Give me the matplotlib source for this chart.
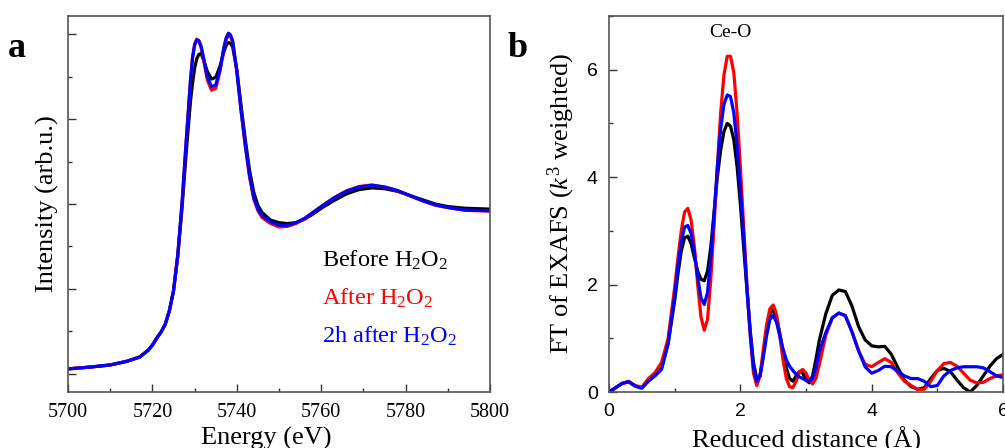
import matplotlib
matplotlib.use("Agg")
import matplotlib.pyplot as plt
from matplotlib.ticker import MultipleLocator

plt.rcParams['font.family'] = ['Liberation Serif', 'DejaVu Serif']
plt.rcParams['mathtext.fontset'] = 'custom'
plt.rcParams['mathtext.rm'] = 'Liberation Serif'
plt.rcParams['mathtext.it'] = 'Liberation Serif:italic'
plt.rcParams['mathtext.default'] = 'rm'

# ---------------- Panel a: XANES ----------------
energy = [5700, 5705, 5710, 5714, 5717, 5719, 5720, 5721, 5722, 5723,
          5724, 5725, 5726, 5727, 5728, 5729, 5729.5, 5730, 5730.5, 5731,
          5731.5, 5732, 5733, 5734, 5735, 5736, 5737, 5737.5, 5738, 5738.5,
          5739, 5740, 5741, 5742, 5743, 5744, 5745, 5746, 5748, 5750,
          5752, 5754, 5756, 5758, 5760, 5763, 5766, 5769, 5772, 5775,
          5778, 5781, 5784, 5787, 5790, 5794, 5800]

xanes_before = [0.03, 0.04, 0.053, 0.075, 0.10, 0.14, 0.17, 0.21, 0.245, 0.29,
                0.37, 0.49, 0.69, 0.97, 1.30, 1.60, 1.71, 1.80, 1.855, 1.88,
                1.885, 1.855, 1.78, 1.735, 1.745, 1.81, 1.90, 1.935, 1.95, 1.945,
                1.925, 1.79, 1.58, 1.38, 1.20, 1.07, 0.99, 0.95, 0.905, 0.89,
                0.885, 0.89, 0.91, 0.94, 0.975, 1.02, 1.06, 1.085, 1.095, 1.09,
                1.075, 1.05, 1.025, 1.00, 0.985, 0.975, 0.97]

xanes_after = [0.03, 0.04, 0.053, 0.075, 0.10, 0.14, 0.17, 0.21, 0.245, 0.29,
               0.37, 0.49, 0.70, 1.00, 1.37, 1.72, 1.86, 1.94, 1.97, 1.96,
               1.925, 1.865, 1.73, 1.67, 1.68, 1.78, 1.92, 1.97, 1.99, 1.985,
               1.955, 1.78, 1.55, 1.34, 1.16, 1.03, 0.96, 0.92, 0.885, 0.865,
               0.868, 0.885, 0.912, 0.948, 0.985, 1.037, 1.078, 1.103, 1.112, 1.10,
               1.078, 1.048, 1.018, 0.993, 0.978, 0.963, 0.958]

xanes_2h = [0.03, 0.04, 0.053, 0.075, 0.10, 0.14, 0.17, 0.21, 0.245, 0.29,
            0.37, 0.49, 0.70, 1.00, 1.37, 1.72, 1.86, 1.935, 1.965, 1.96,
            1.93, 1.875, 1.75, 1.69, 1.70, 1.79, 1.93, 1.98, 2.005, 1.995,
            1.96, 1.78, 1.55, 1.35, 1.17, 1.04, 0.97, 0.93, 0.895, 0.875,
            0.875, 0.89, 0.915, 0.95, 0.985, 1.035, 1.075, 1.10, 1.11, 1.10,
            1.08, 1.05, 1.02, 0.995, 0.98, 0.965, 0.96]

# ---------------- Panel b: FT-EXAFS ----------------
r_dist = [0.0, 0.1, 0.2, 0.3, 0.4, 0.5, 0.6, 0.7, 0.8, 0.9,
          1.0, 1.05, 1.1, 1.15, 1.2, 1.25, 1.3, 1.35, 1.4, 1.45,
          1.5, 1.55, 1.6, 1.65, 1.7, 1.75, 1.8, 1.85, 1.9, 1.95,
          2.0, 2.05, 2.1, 2.15, 2.2, 2.25, 2.3, 2.35, 2.4, 2.45,
          2.5, 2.55, 2.6, 2.65, 2.7, 2.75, 2.8, 2.85, 2.9, 2.95,
          3.0, 3.05, 3.1, 3.15, 3.2, 3.3, 3.4, 3.5, 3.6, 3.7,
          3.8, 3.9, 4.0, 4.1, 4.2, 4.3, 4.4, 4.5, 4.6, 4.7,
          4.8, 4.9, 5.0, 5.1, 5.2, 5.3, 5.4, 5.5, 5.6, 5.7,
          5.8, 5.9, 6.0]

ft_before = [0.0, 0.08, 0.16, 0.19, 0.11, 0.08, 0.22, 0.32, 0.45, 0.9,
             1.7, 2.2, 2.62, 2.87, 2.9, 2.76, 2.5, 2.25, 2.1, 2.07,
             2.25, 2.7, 3.35, 4.0, 4.5, 4.85, 5.0, 4.95, 4.7, 4.2,
             3.5, 2.7, 1.9, 1.15, 0.55, 0.25, 0.3, 0.7, 1.15, 1.45,
             1.53, 1.4, 1.1, 0.75, 0.45, 0.25, 0.2, 0.3, 0.38, 0.35,
             0.22, 0.17, 0.3, 0.6, 0.95, 1.45, 1.8, 1.9, 1.87, 1.6,
             1.22, 0.97, 0.86, 0.84, 0.85, 0.7, 0.45, 0.22, 0.1, 0.05,
             0.08, 0.25, 0.4, 0.44, 0.38, 0.22, 0.08, 0.0, 0.12, 0.3,
             0.48, 0.62, 0.7]

ft_after = [0.0, 0.08, 0.16, 0.2, 0.12, 0.09, 0.25, 0.36, 0.55, 1.0,
            1.95, 2.5, 3.0, 3.35, 3.42, 3.2, 2.7, 2.0, 1.4, 1.15,
            1.35, 2.1, 3.1, 4.2, 5.2, 5.9, 6.25, 6.25, 5.95, 5.2,
            4.2, 3.1, 2.0, 1.05, 0.35, 0.12, 0.3, 0.8, 1.25, 1.55,
            1.62, 1.45, 1.05, 0.6, 0.25, 0.1, 0.08, 0.2, 0.38, 0.42,
            0.35, 0.22, 0.15, 0.25, 0.5, 1.05, 1.38, 1.47, 1.42, 1.12,
            0.77, 0.52, 0.47, 0.55, 0.62, 0.55, 0.35, 0.2, 0.12, 0.05,
            0.05, 0.2, 0.4, 0.53, 0.55, 0.48, 0.35, 0.22, 0.17, 0.18,
            0.25, 0.3, 0.32]

ft_2h = [0.0, 0.08, 0.16, 0.19, 0.11, 0.07, 0.2, 0.3, 0.42, 0.9,
         1.8, 2.35, 2.8, 3.07, 3.1, 2.95, 2.6, 2.15, 1.75, 1.63,
         1.85, 2.5, 3.3, 4.2, 4.9, 5.35, 5.53, 5.5, 5.2, 4.6,
         3.8, 2.9, 1.95, 1.1, 0.45, 0.2, 0.3, 0.65, 1.05, 1.35,
         1.43, 1.3, 1.05, 0.8, 0.6, 0.48, 0.4, 0.33, 0.28, 0.25,
         0.22, 0.2, 0.25, 0.45, 0.75, 1.1, 1.38, 1.47, 1.42, 1.12,
         0.77, 0.47, 0.35, 0.4, 0.48, 0.47, 0.38, 0.3, 0.25, 0.25,
         0.2, 0.1, 0.12, 0.3, 0.4, 0.45, 0.47, 0.47, 0.47, 0.45,
         0.38, 0.3, 0.27]

series_labels = [r'Before H$_2$O$_2$', r'After H$_2$O$_2$', r'2h after H$_2$O$_2$']
series_colors = ['black', 'red', 'blue']

fig = plt.figure(figsize=(10.05, 4.48), dpi=100)
axa = fig.add_axes([0.0677, 0.125, 0.4199, 0.8393])
axb = fig.add_axes([0.606, 0.125, 0.392, 0.8393])

lw = 2.3
for ys, c in zip([xanes_before, xanes_after, xanes_2h], series_colors):
    axa.plot(energy, ys, color=c, lw=lw)
axa.set_xlim(5700, 5800)
axa.set_ylim(-0.106, 2.106)
axa.xaxis.set_major_locator(MultipleLocator(20))
axa.xaxis.set_minor_locator(MultipleLocator(10))
axa.yaxis.set_major_locator(MultipleLocator(0.5))
axa.yaxis.set_minor_locator(MultipleLocator(0.25))
axa.tick_params(axis='both', which='both', direction='in', width=1.0, colors='#333333')
axa.tick_params(axis='both', which='major', length=6)
axa.tick_params(axis='both', which='minor', length=3)
axa.tick_params(axis='y', labelleft=False)
axa.tick_params(axis='x', labelsize=14.5, pad=8, labelcolor='black')
axa.set_xlabel('Energy (eV)', fontsize=19)
axa.xaxis.set_label_coords(0.47, -0.092, transform=axa.transAxes)
axa.xaxis.label.set_va('top')
axa.set_ylabel('Intensity (arb.u.)', fontsize=19, labelpad=3)
for sp in axa.spines.values():
    sp.set_color('#555555')
    sp.set_linewidth(1.2)

leg_y = [0.629, 0.406, 0.182]
for lab, c, yy in zip(series_labels, series_colors, leg_y):
    axa.text(5760.2, yy, lab, color=c, fontsize=17.5, va='baseline', ha='left')

fig.text(0.008, 0.873, 'a', fontsize=26, fontweight='bold', va='baseline', ha='left')

for ys, c in zip([ft_before, ft_after, ft_2h], series_colors):
    axb.plot(r_dist, ys, color=c, lw=lw)
axb.set_xlim(0, 6)
axb.set_ylim(0, 7)
axb.xaxis.set_major_locator(MultipleLocator(2))
axb.xaxis.set_minor_locator(MultipleLocator(1))
axb.yaxis.set_major_locator(MultipleLocator(2))
axb.yaxis.set_minor_locator(MultipleLocator(1))
axb.tick_params(axis='both', which='both', direction='in', width=1.0, colors='#333333')
axb.tick_params(axis='both', which='major', length=6)
axb.tick_params(axis='both', which='minor', length=3)
axb.tick_params(axis='both', labelsize=14, pad=8, labelcolor='black')
for lbl in axb.get_xticklabels() + axb.get_yticklabels():
    lbl.set_family(['Liberation Sans', 'DejaVu Sans'])
axb.set_xlabel('Reduced distance (Å)', fontsize=19, labelpad=5)
axb.set_ylabel(r'FT of EXAFS ($\mathit{k}^3$ weighted)', fontsize=19, labelpad=7)
for sp in axb.spines.values():
    sp.set_color('#555555')
    sp.set_linewidth(1.2)
axb.text(1.85, 6.6, 'Ce-O', fontsize=14, ha='center', va='baseline')

fig.text(0.505, 0.873, 'b', fontsize=26, fontweight='bold', va='baseline', ha='left')

fig.savefig('out.png', dpi=100)
